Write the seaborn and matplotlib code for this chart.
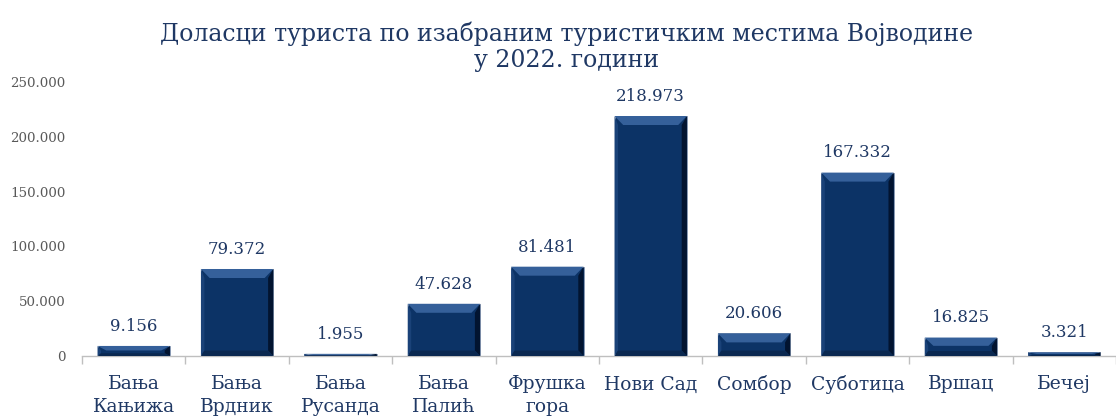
import matplotlib
matplotlib.use("Agg")
import matplotlib.pyplot as plt
import seaborn as sns
import numpy as np
import pandas as pd
from matplotlib.patches import Polygon
from matplotlib.ticker import FuncFormatter, FixedLocator

categories = ["Бања\nКањижа", "Бања\nВрдник", "Бања\nРусанда", "Бања\nПалић", "Фрушка\nгора",
              "Нови Сад", "Сомбор", "Суботица", "Вршац", "Бечеј"]
values = [9156, 79372, 1955, 47628, 81481, 218973, 20606, 167332, 16825, 3321]
title = "Доласци туриста по изабраним туристичким местима Војводине\nу 2022. години"

navy = "#0C3366"
text_navy = "#1F3864"

sns.set_theme(style="white")
plt.rcParams['font.family'] = ['DejaVu Serif']

fig = plt.figure(figsize=(11.16, 4.19), dpi=100)
ax = fig.add_axes([0.0735, 0.1504, 0.9265, 0.6539])

df = pd.DataFrame({"cat": categories, "val": values})
sns.barplot(data=df, x="cat", y="val", color=navy, saturation=1, width=0.7, ax=ax,
            edgecolor="#8a9bb5", linewidth=0.6)

# bevel effect derived from each bar's geometry
for p in ax.patches:
    x0, y0 = p.get_x(), p.get_y()
    w, h = p.get_width(), p.get_height()
    bx = w * 0.12
    by = 9 * 250000 / 274.0
    by = min(by, h * 0.45)
    bxe = min(bx, w * 0.5)
    # left slightly light bevel
    ax.add_patch(Polygon([[x0, y0], [x0, y0 + h], [x0 + bxe * 0.4, y0 + h - by], [x0 + bxe * 0.4, y0 + by * 0.6]],
                         closed=True, facecolor="#1A4278", edgecolor="none", zorder=3))
    # top light bevel
    ax.add_patch(Polygon([[x0, y0 + h], [x0 + w, y0 + h], [x0 + w - bxe, y0 + h - by], [x0 + bxe, y0 + h - by]],
                         closed=True, facecolor="#35609A", edgecolor="none", zorder=3))
    # right dark bevel
    ax.add_patch(Polygon([[x0 + w, y0 + h], [x0 + w, y0], [x0 + w - bxe * 0.6, y0 + by * 0.6], [x0 + w - bxe * 0.6, y0 + h - by]],
                         closed=True, facecolor="#021430", edgecolor="none", zorder=3))
    # bottom slightly dark bevel
    ax.add_patch(Polygon([[x0, y0], [x0 + w, y0], [x0 + w - bxe * 0.6, y0 + by * 0.6], [x0 + bxe * 0.4, y0 + by * 0.6]],
                         closed=True, facecolor="#0A2850", edgecolor="none", zorder=3))

for c in ax.containers:
    ax.bar_label(c, labels=[f"{v:,}".replace(",", ".") for v in values], padding=8,
                 fontsize=12, color=text_navy)

ax.set_ylim(0, 250000)
ax.set_xlim(-0.5, len(categories) - 0.5)
ax.yaxis.set_major_locator(FixedLocator([0, 50000, 100000, 150000, 200000, 250000]))
ax.yaxis.set_major_formatter(FuncFormatter(lambda v, _: f"{int(v):,}".replace(",", ".")))
ax.tick_params(axis="y", labelsize=9.6, labelcolor="#595959", length=0, pad=12)
ax.tick_params(axis="x", labelsize=13.5, labelcolor=text_navy, length=0, pad=14)
ax.set_xticks(range(len(categories)))
ax.set_xticklabels(categories, linespacing=1.3)
ax.set_xticks(np.arange(-0.5, len(categories) + 0.5, 1), minor=True)
ax.tick_params(axis="x", which="minor", length=6, color="#BFBFBF", width=1, bottom=True)
ax.set_xlabel("")
ax.set_ylabel("")
for s in ["top", "right", "left"]:
    ax.spines[s].set_visible(False)
ax.spines["bottom"].set_color("#BFBFBF")
ax.spines["bottom"].set_linewidth(1)
ax.grid(False)

fig.text(0.508, 0.948, title, ha="center", va="top", fontsize=17, color=text_navy, linespacing=1.15)

fig.savefig("out.png", dpi=100)
